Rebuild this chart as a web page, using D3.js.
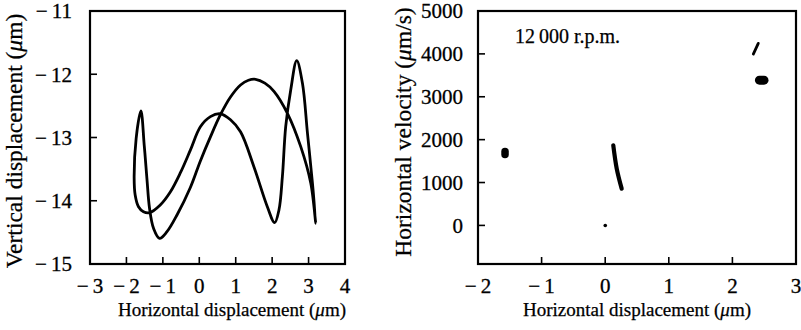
<!DOCTYPE html>
<html><head><meta charset="utf-8">
<script src="https://cdn.jsdelivr.net/npm/d3@7"></script>
<style>
html,body{margin:0;padding:0;background:#fff;}
</style></head>
<body><svg id="c" width="801" height="330" font-family="'Liberation Serif','Times New Roman',Times,serif"></svg>
<script>
// ---- Left panel: orbit (horizontal vs vertical displacement, µm)
const orbitX = [3.198,3.107,2.970,2.832,2.675,2.510,2.372,2.281,2.187,2.069,1.868,1.499,1.132,0.857,0.581,0.306,0.030,-0.245,-0.521,-0.796,-1.072,-1.366,-1.532,-1.669,-1.760,-1.788,-1.733,-1.603,-1.512,-1.438,-1.366,-1.256,-1.091,-0.887,-0.612,-0.245,0.030,0.306,0.581,0.857,1.132,1.350,1.545,1.800,2.050,2.419,2.785,3.061];
const orbitY = [-14.357,-13.724,-12.934,-12.143,-11.786,-12.249,-12.829,-13.620,-14.146,-14.347,-14.094,-13.462,-12.910,-12.720,-12.625,-12.670,-12.830,-13.200,-13.561,-13.862,-14.067,-14.189,-14.173,-14.094,-13.909,-13.645,-13.013,-12.581,-13.119,-13.645,-14.119,-14.436,-14.594,-14.489,-14.225,-13.790,-13.370,-12.990,-12.640,-12.360,-12.170,-12.095,-12.080,-12.140,-12.270,-12.617,-13.145,-13.724];
const leftXTicks = [-3,-2,-1,0,1,2,3,4];
const leftYTicks = [-15,-14,-13,-12,-11];

// ---- Right panel: Poincaré map clusters (horizontal displacement µm, horizontal velocity µm/s)
const clusterNames = ["left blob","origin","middle streak","upper streak","right blob"];
const clusterX = [[-1.575,-1.575],[0,0.002],[0.127,0.181,0.259],[2.329,2.407],[2.425,2.497]];
const clusterY = [[1655,1725],[0,0],[1869,1325,857],[3995,4245],[3388,3388]];
const clusterWidth = [7.5,3.5,4.2,2.8,9];
const rightXTicks = [-2,-1,0,1,2,3];
const rightYTicks = [0,1000,2000,3000,4000,5000];
const speedLabel = "12\u2009000 r.p.m.";

const FONT = "'Liberation Serif','Times New Roman',Times,serif";
const svg = d3.select("#c");
const fmt = v => v < 0 ? "\u2212\u2009" + Math.abs(v) : String(v);

function frame(g, x, y, xt, yt, ylabGap){
  const [x0,x1] = x.range(), [y0,y1] = y.range();
  g.append("rect").attr("x",x0).attr("y",y1).attr("width",x1-x0).attr("height",y0-y1)
    .attr("fill","none").attr("stroke","#000").attr("stroke-width",2.2);
  xt.forEach(t=>{
    g.append("line").attr("x1",x(t)).attr("x2",x(t)).attr("y1",y0).attr("y2",y0-7)
      .attr("stroke","#000").attr("stroke-width",1.6);
    g.append("text").attr("font-family",FONT).attr("x",x(t)).attr("y",y0+29).attr("text-anchor","middle")
      .attr("font-size",21).attr("stroke","#000").attr("stroke-width",0.3).text(fmt(t));
  });
  yt.forEach(t=>{
    g.append("line").attr("x1",x0).attr("x2",x0+7).attr("y1",y(t)).attr("y2",y(t))
      .attr("stroke","#000").attr("stroke-width",1.6);
    g.append("text").attr("font-family",FONT).attr("x",x0-ylabGap).attr("y",y(t)).attr("dy","0.35em").attr("text-anchor","end")
      .attr("font-size",21).attr("stroke","#000").attr("stroke-width",0.3).text(fmt(t));
  });
}
function label(g, x, y, rot, parts, size){
  const t = g.append("text").attr("font-family",FONT).attr("font-size",size).attr("text-anchor","middle")
    .attr("stroke","#000").attr("stroke-width",0.25)
    .attr("transform",`translate(${x},${y})${rot?" rotate(-90)":""}`);
  parts.forEach(p=>t.append("tspan").attr("font-style",p[1]?"italic":null).text(p[0]));
}

// Left
const xL = d3.scaleLinear().domain([-3,4]).range([90,345]);
const yL = d3.scaleLinear().domain([-15,-11]).range([264,11]);
const gL = svg.append("g");
frame(gL, xL, yL, leftXTicks, leftYTicks, 18);
const orbit = orbitX.map((v,i)=>[v,orbitY[i]]);
gL.append("path").attr("d", d3.line().x(d=>xL(d[0])).y(d=>yL(d[1])).curve(d3.curveCatmullRomClosed.alpha(0.5))(orbit))
  .attr("fill","none").attr("stroke","#000").attr("stroke-width",2.8).attr("stroke-linejoin","round");
label(gL, 232, 316, false, [["Horizontal displacement ("],["\u03bc",true],["m)"]], 19);
label(gL, 22, 141, true, [["Vertical displacement ("],["\u03bc",true],["m)"]], 23.5);

// Right
const xR = d3.scaleLinear().domain([-2,3]).range([478,796]);
const yR = d3.scaleLinear().domain([-900,5000]).range([264,11]);
const gR = svg.append("g");
frame(gR, xR, yR, rightXTicks, rightYTicks, 15);
clusterX.forEach((cx,i)=>{
  const pts = cx.map((v,j)=>[v, clusterY[i][j]]);
  gR.append("path").attr("d", d3.line().x(d=>xR(d[0])).y(d=>yR(d[1])).curve(d3.curveCatmullRom)(pts))
    .attr("fill","none").attr("stroke","#000").attr("stroke-width",clusterWidth[i])
    .attr("stroke-linecap","round").attr("stroke-linejoin","round");
});
gR.append("text").attr("font-family",FONT).attr("x",515).attr("y",43).attr("font-size",20)
  .attr("stroke","#000").attr("stroke-width",0.25).text(speedLabel);
label(gR, 637, 316, false, [["Horizontal displacement ("],["\u03bc",true],["m)"]], 19);
label(gR, 411, 132, true, [["Horizontal velocity ("],["\u03bc",true],["m/s)"]], 23.5);
</script></body></html>
